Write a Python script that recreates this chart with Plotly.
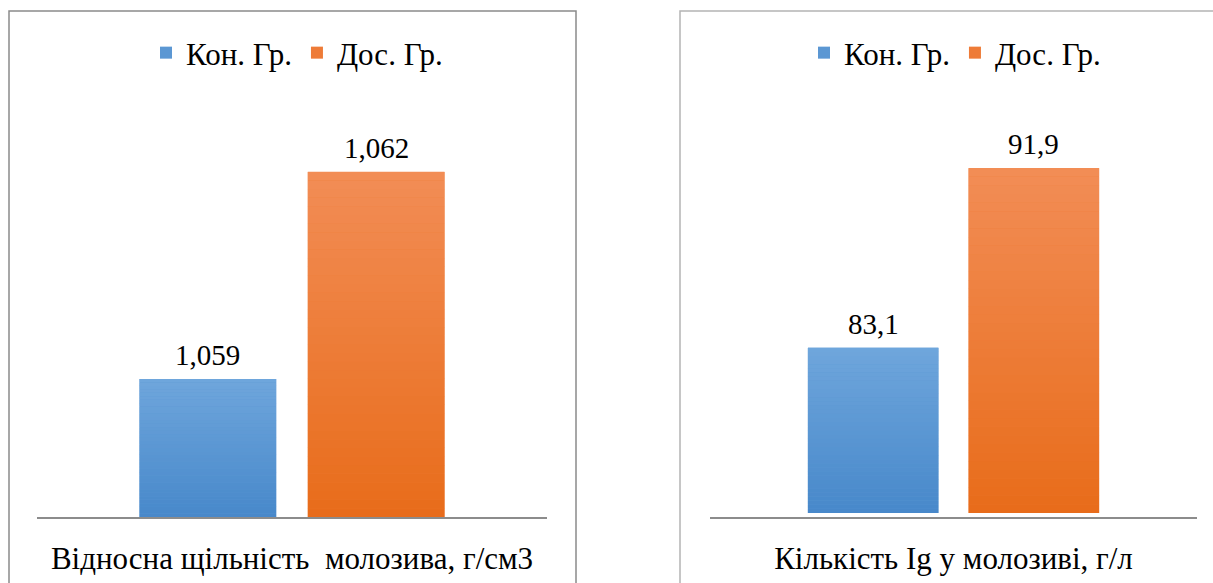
import plotly.graph_objects as go

# ---- data ----
series = ["Кон. Гр.", "Дос. Гр."]
cat_left = ["Відносна щільність\u00a0 молозива, г/см3"]
vals_left = [1.059, 1.062]
labels_left = ["1,059", "1,062"]
cat_right = ["Кількість Ig у молозиві, г/л"]
vals_right = [83.1, 91.9]
labels_right = ["83,1", "91,9"]
yrange_left = [1.057, 1.063]
yrange_right = [75, 95]

# ---- style ----
W = 0.268
OFFS = [-0.299, 0.031]
TOP_COL = [(0x6F, 0xA6, 0xDC), (0xF2, 0x8D, 0x56)]
BOT_COL = [(0x47, 0x88, 0xCA), (0xE8, 0x6C, 0x1A)]
MID_COL = ["#5B97D3", "#EE7B37"]
FONT = "Liberation Serif"
NSEG = 40
W_PX, H_PX = 1213, 583


def rgb(c):
    return "rgb(%d,%d,%d)" % c


def mix(a, b, t):
    return tuple(round(a[i] + (b[i] - a[i]) * t) for i in range(3))


fig = go.Figure()
annotations = []


def add_panel(vals, labels, cats, yr, xa, ya, legend):
    for i, v in enumerate(vals):
        fig.add_trace(go.Bar(
            x=[0], y=[v], width=W, offset=OFFS[i], name=series[i],
            marker=dict(color=MID_COL[i], line=dict(width=0)),
            xaxis=xa, yaxis=ya, legend=legend, hoverinfo="skip"))
        h = (v - yr[0]) / NSEG
        for k in range(NSEG):
            t = (k + 0.5) / NSEG  # 0 bottom -> 1 top
            col = mix(BOT_COL[i], TOP_COL[i], t)
            fig.add_trace(go.Bar(
                x=[0], y=[h * 1.02], base=[yr[0] + k * h], width=W, offset=OFFS[i],
                marker=dict(color=rgb(col), line=dict(width=0)),
                xaxis=xa, yaxis=ya, showlegend=False, hoverinfo="skip"))
        annotations.append(dict(
            x=OFFS[i] + W / 2, y=v, xref=xa, yref=ya, text=labels[i],
            showarrow=False, yanchor="bottom", yshift=6,
            font=dict(family=FONT, size=29, color="black")))


add_panel(vals_left, labels_left, cat_left, yrange_left, "x", "y", "legend")
add_panel(vals_right, labels_right, cat_right, yrange_right, "x2", "y2", "legend2")


def xaxis(domain, cats):
    return dict(domain=domain, range=[-0.5, 0.5], tickvals=[0], ticktext=cats,
                showline=True, linecolor="#8c8c8c", linewidth=1.5,
                showgrid=False, zeroline=False, ticks="", fixedrange=True,
                ticklabelstandoff=13,
                tickfont=dict(family=FONT, size=31, color="black"))


def yaxis(domain, yr):
    return dict(domain=domain, range=yr, visible=False, showgrid=False, fixedrange=True)


def leg(xc):
    return dict(orientation="h", x=xc, y=1 - 53 / H_PX, xanchor="center", yanchor="middle",
                font=dict(family=FONT, size=31, color="black"), bgcolor="rgba(0,0,0,0)",
                itemclick=False, itemdoubleclick=False)


shapes = [
    dict(type="rect", xref="paper", yref="paper", x0=9 / W_PX, x1=576 / W_PX,
         y0=-0.1, y1=1 - 11 / H_PX, line=dict(color="#8a8a8a", width=1.5)),
    dict(type="rect", xref="paper", yref="paper", x0=680 / W_PX, x1=1.1,
         y0=-0.1, y1=1 - 11 / H_PX, line=dict(color="#b4b4b4", width=1.5)),
]

fig.update_layout(
    width=W_PX, height=H_PX, margin=dict(l=0, r=0, t=0, b=0),
    paper_bgcolor="white", plot_bgcolor="white", barmode="overlay",
    xaxis=xaxis([37 / W_PX, 547 / W_PX], cat_left),
    yaxis=yaxis([1 - 517 / H_PX, 1 - 103 / H_PX], yrange_left),
    xaxis2=xaxis([710 / W_PX, 1197 / W_PX], cat_right),
    yaxis2=yaxis([1 - 513 / H_PX, 1 - 105 / H_PX], yrange_right),
    legend=leg(297 / W_PX), legend2=leg(955 / W_PX),
    annotations=annotations, shapes=shapes,
)

fig.write_html("out.html")
